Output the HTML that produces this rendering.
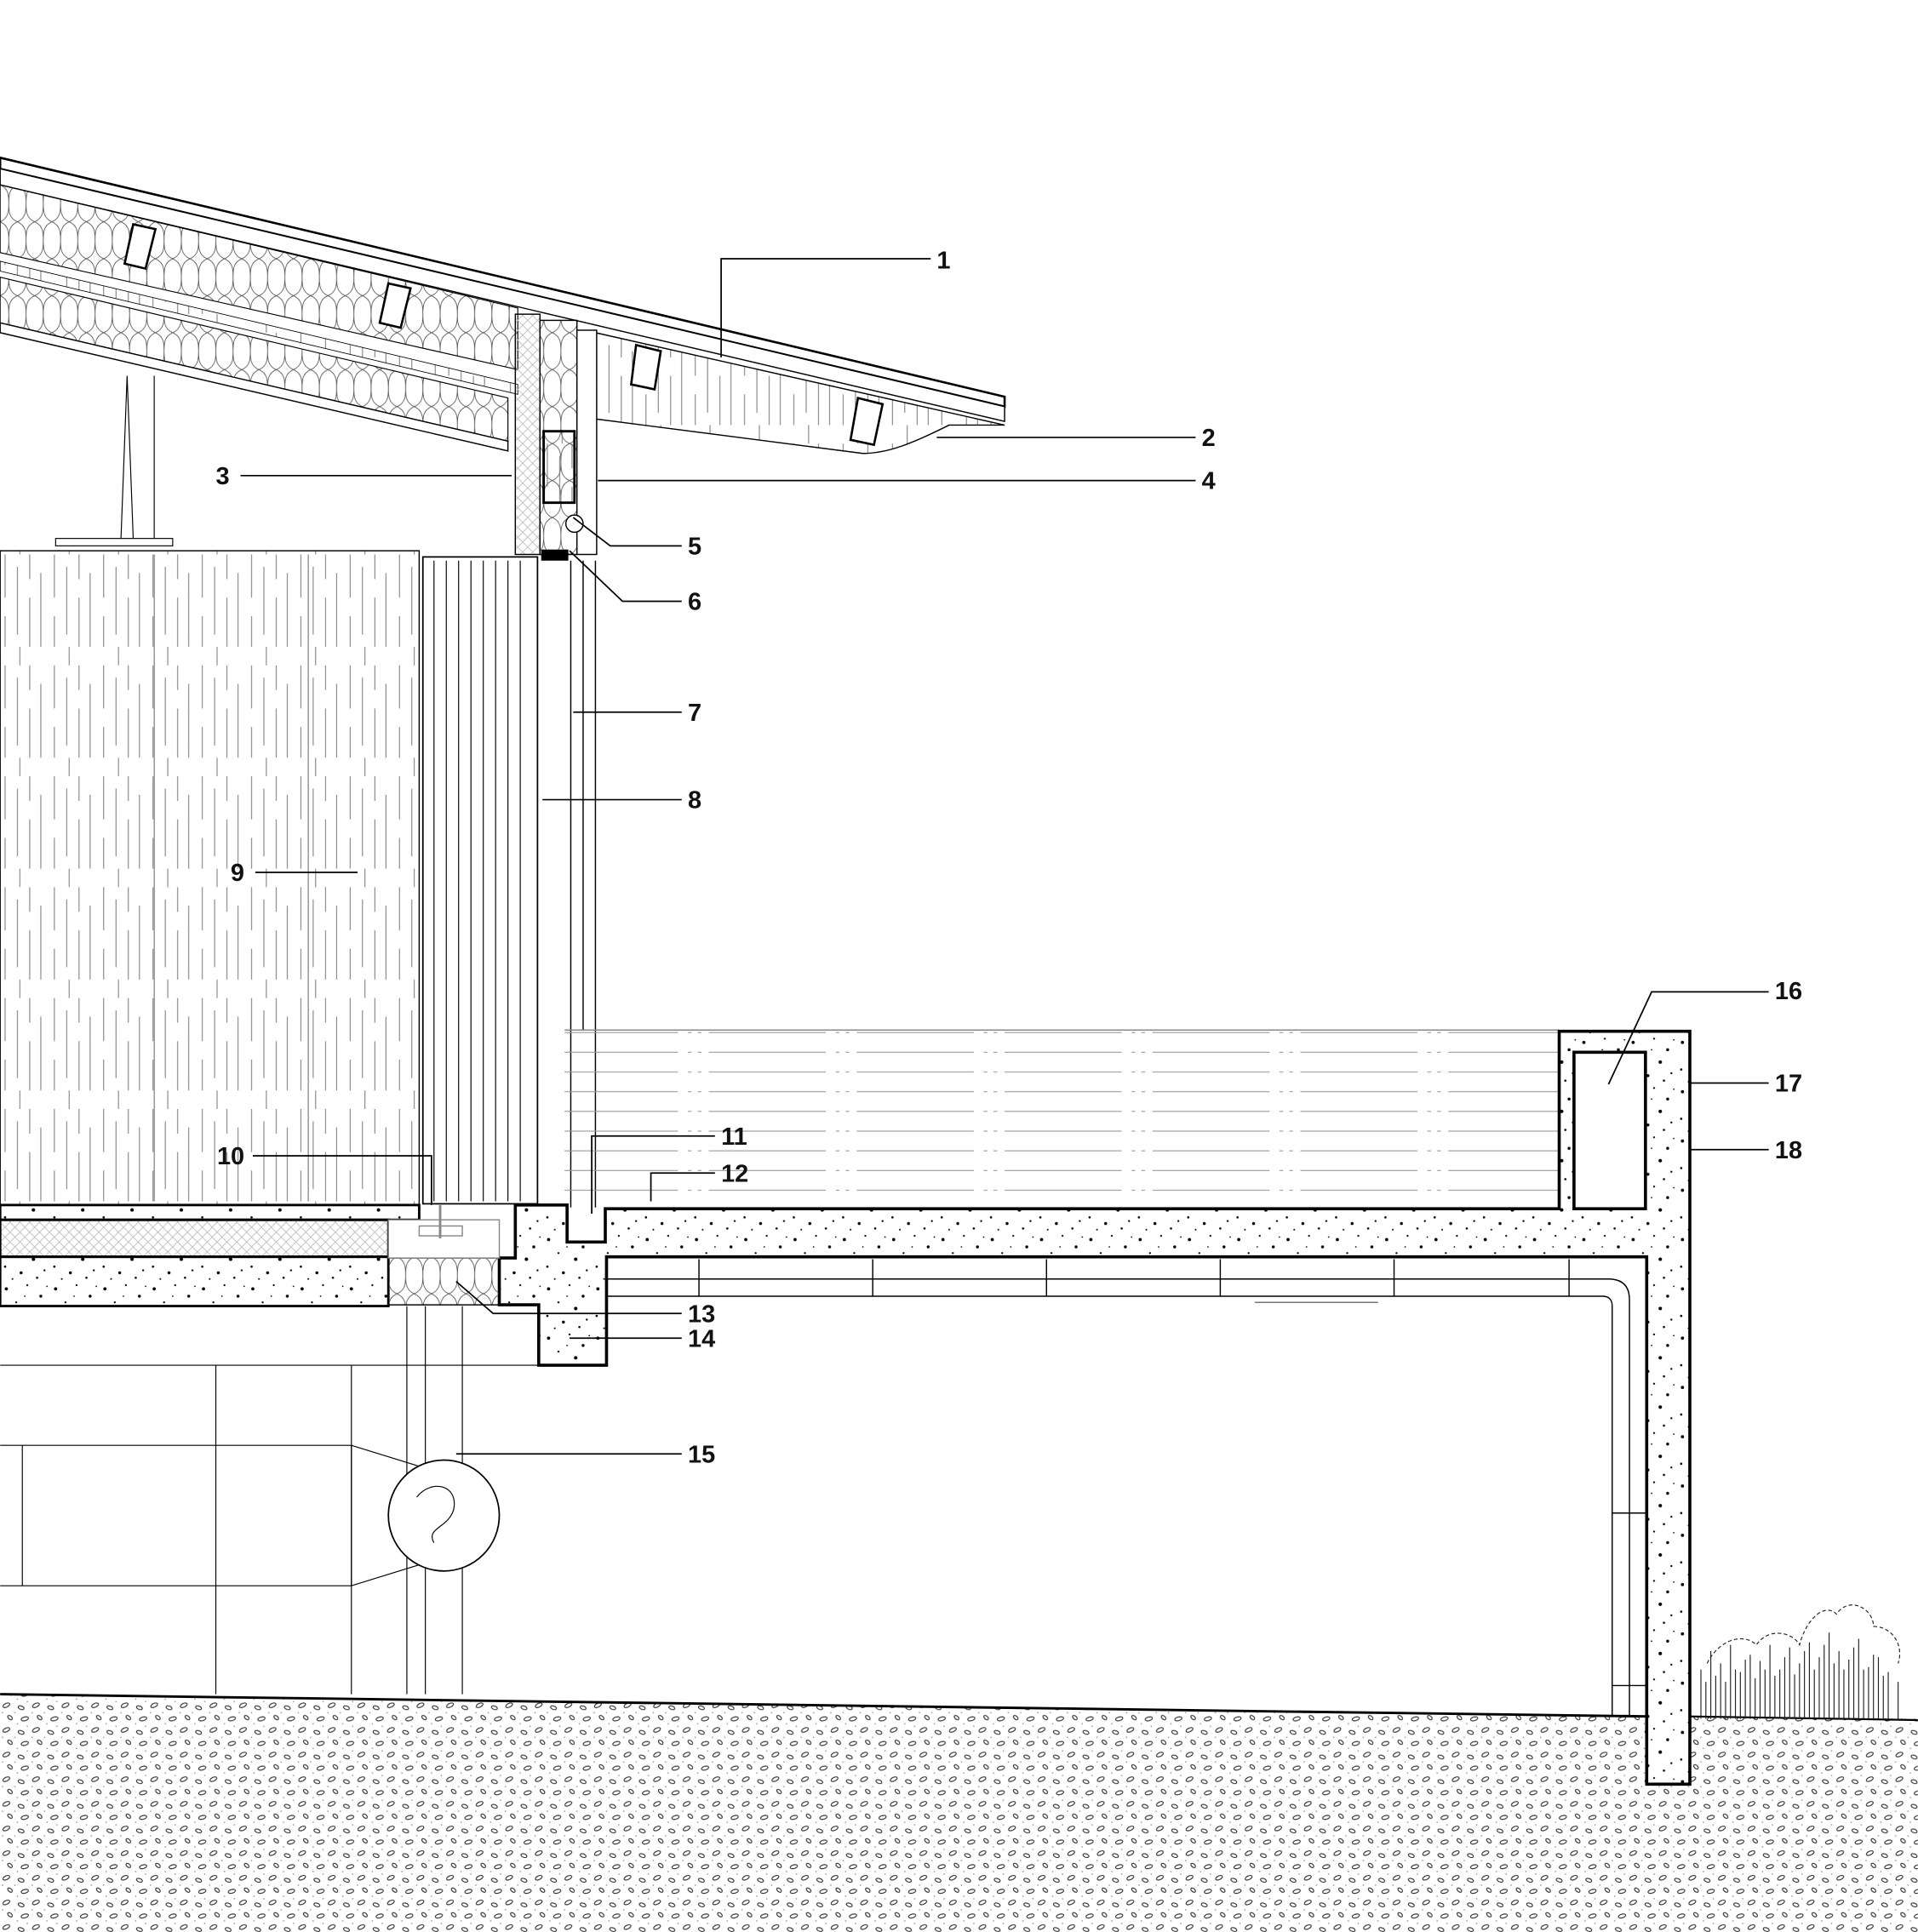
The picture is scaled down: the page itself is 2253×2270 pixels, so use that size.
<!DOCTYPE html>
<html><head><meta charset="utf-8"><style>
html,body{margin:0;padding:0;background:#fff}
svg{display:block}
text{font-family:"Liberation Sans",Arial,sans-serif;font-weight:bold;font-size:20px;fill:#111}
</style></head><body>
<svg width="2253" height="2270" viewBox="0 0 1556 1568" xmlns="http://www.w3.org/2000/svg">
<defs>
<pattern id="conc" width="40" height="40" patternUnits="userSpaceOnUse">
<circle cx="5" cy="6" r="1.3" fill="#000"/><circle cx="22" cy="3" r="0.8" fill="#000"/><circle cx="33" cy="12" r="1.2" fill="#000"/>
<circle cx="13" cy="17" r="0.8" fill="#000"/><circle cx="27" cy="22" r="1.4" fill="#000"/><circle cx="4" cy="28" r="0.9" fill="#000"/>
<circle cx="17" cy="33" r="1.2" fill="#000"/><circle cx="36" cy="31" r="0.8" fill="#000"/><circle cx="10" cy="38" r="0.7" fill="#000"/>
<circle cx="30" cy="37" r="0.9" fill="#000"/><circle cx="20" cy="12" r="0.6" fill="#000"/><circle cx="38" cy="4" r="0.6" fill="#000"/>
</pattern>
<pattern id="cross" width="8" height="8" patternUnits="userSpaceOnUse">
<path d="M0 0L8 8M8 0L0 8" stroke="#bbb" stroke-width="0.6"/>
</pattern>
<pattern id="gravel" width="24" height="20" patternUnits="userSpaceOnUse">
<ellipse cx="5" cy="4" rx="3" ry="1.5" transform="rotate(-25 5 4)" fill="none" stroke="#333" stroke-width="0.8"/>
<ellipse cx="17" cy="6" rx="2.5" ry="1.4" transform="rotate(20 17 6)" fill="none" stroke="#333" stroke-width="0.8"/>
<ellipse cx="20" cy="15" rx="3" ry="1.5" transform="rotate(-15 20 15)" fill="none" stroke="#333" stroke-width="0.8"/>
<ellipse cx="8" cy="14" rx="2.2" ry="1.3" transform="rotate(40 8 14)" fill="none" stroke="#333" stroke-width="0.8"/>
<circle cx="12" cy="10" r="0.6" fill="#999"/><circle cx="22" cy="1" r="0.6" fill="#999"/><circle cx="2" cy="10" r="0.6" fill="#999"/><circle cx="14" cy="19" r="0.6" fill="#999"/>
</pattern>
<pattern id="wood" width="40" height="90" patternUnits="userSpaceOnUse">
<path d="M4 0v35M4 50v25M14 10v55M24 0v20M24 35v40M33 15v60M16 75v15" stroke="#777" stroke-width="0.7"/>
</pattern>
<pattern id="insul" width="14" height="30" patternUnits="userSpaceOnUse">
<path d="M0 0C14 6 0 24 14 30M14 0C0 6 14 24 0 30" fill="none" stroke="#555" stroke-width="0.6"/>
</pattern>
<pattern id="water" width="120" height="16" patternUnits="userSpaceOnUse">
<path d="M0 6H70M78 6h3M86 6h3M95 6h25" stroke="#999" stroke-width="0.8"/>
</pattern>
</defs>

<!-- ground -->
<path d="M0 1375 L1336 1393 L1336 1448 L1371 1448 L1371 1393 L1556 1395 L1556 1568 L0 1568Z" fill="url(#gravel)"/>
<path d="M0 1375 L1336 1393" stroke="#000" stroke-width="2"/>
<path d="M1371 1393 L1556 1396" stroke="#000" stroke-width="1.5"/>
<!-- shrubs -->
<g stroke="#222" stroke-width="0.8" fill="none">
<path d="M1380 1395 v-40 M1384 1395 v-30 M1388 1395 v-55 M1392 1395 v-35 M1396 1395 v-45 M1400 1395 v-30 M1404 1395 v-60 M1408 1395 v-40 M1412 1395 v-38 M1416 1395 v-48 M1420 1395 v-52 M1424 1395 v-33 M1428 1395 v-47 M1432 1395 v-40 M1436 1395 v-60 M1440 1395 v-35 M1444 1395 v-40 M1448 1395 v-50 M1452 1395 v-58 M1456 1395 v-36 M1460 1395 v-45 M1464 1395 v-55 M1468 1395 v-62 M1472 1395 v-40 M1476 1395 v-50 M1480 1395 v-60 M1484 1395 v-70 M1488 1395 v-45 M1492 1395 v-55 M1496 1395 v-40 M1500 1395 v-48 M1504 1395 v-58 M1508 1395 v-65 M1512 1395 v-40 M1516 1395 v-42 M1520 1395 v-52 M1524 1395 v-50 M1528 1395 v-35 M1532 1395 v-38 M1540 1395 v-30"/>
<path d="M1385 1350c10-20 30-25 40-15c10-15 30-10 35 0c5-20 20-35 30-25c10-15 30-5 30 10c15 0 25 15 20 30" stroke-dasharray="3 2"/>
</g>

<!-- roof -->
<g>
<polygon points="0,128 815,322 815,330 0,137" fill="#fff" stroke="#000" stroke-width="1.8"/>
<polygon points="0,137 815,330 815,342 0,150" fill="#fff" stroke="#000" stroke-width="1"/>
<polygon points="0,150 420,250 420,300 0,205" fill="url(#insul)" stroke="#000" stroke-width="0.8"/>
<polygon points="0,212 420,312 420,320 0,220" fill="url(#wood)" stroke="#000" stroke-width="0.6"/>
<polygon points="0,225 412,323 412,358 0,262" fill="url(#insul)" stroke="#000" stroke-width="0.8"/>
<polygon points="0,262 412,358 412,366 0,270" fill="#fff" stroke="#000" stroke-width="1"/>
<polygon points="108,182 126,186 118,218 101,214" fill="#fff" stroke="#000" stroke-width="1.8"/>
<polygon points="315,230 333,234 325,266 308,262" fill="#fff" stroke="#000" stroke-width="1.8"/>
<!-- overhang -->
<path d="M483 270 L815 345 L770 345 C740 360 720 368 700 368 L483 340Z" fill="url(#wood)" stroke="#000" stroke-width="1"/>
<polygon points="516,280 536,285 531,316 512,312" fill="#fff" stroke="#000" stroke-width="1.8"/>
<polygon points="696,323 716,328 709,361 690,357" fill="#fff" stroke="#000" stroke-width="1.8"/>
</g>
<!-- wall column under roof -->
<rect x="418" y="255" width="20" height="195" fill="url(#cross)" stroke="#000" stroke-width="1"/>
<rect x="438" y="260" width="30" height="190" fill="url(#insul)" stroke="#000" stroke-width="1"/>
<rect x="441" y="350" width="25" height="58" fill="url(#wood)" stroke="#000" stroke-width="2"/>
<rect x="468" y="268" width="16" height="182" fill="#fff" stroke="#000" stroke-width="1"/>
<circle cx="466" cy="425" r="7" fill="#fff" stroke="#000"/>
<rect x="439" y="446" width="22" height="9" fill="#000"/>
<!-- post left -->
<path d="M103 305 L98 438 M103 305 L108 438 M125 305 V438" stroke="#000" stroke-width="0.8"/>
<rect x="45" y="437" width="95" height="6" fill="#fff" stroke="#000" stroke-width="0.8"/>

<!-- wood block wall -->
<rect x="0" y="447" width="340" height="531" fill="url(#wood)" stroke="#000" stroke-width="1"/>
<path d="M125 450V975M250 450V975" stroke="#666" stroke-width="0.7"/>
<rect x="343" y="452" width="93" height="525" fill="#fff" stroke="#000" stroke-width="1.2"/>
<g stroke="#000" stroke-width="0.8"><path d="M352 455V975M362 455V975M372 455V975M382 455V975M392 455V975M402 455V975M412 455V975M422 455V975"/></g>
<!-- glass -->
<path d="M463 455 V980 M483 455 V980 M473 455V836" stroke="#000" stroke-width="1"/>

<!-- pool -->
<rect x="458" y="836" width="807" height="145" fill="url(#water)"/>
<path d="M458 836 H1265" stroke="#888" stroke-width="1"/>

<!-- concrete -->
<path d="M418 978 L460 978 L460 1008 L491 1008 L491 981 L1265 981 L1265 837 L1371 837 L1371 1448 L1336 1448 L1336 1020 L492 1020 L492 1108 L437 1108 L437 1059 L405 1059 L405 1021 L418 1021 Z" fill="url(#conc)" stroke="#000" stroke-width="2.5"/>
<rect x="1277" y="854" width="58" height="127" fill="#fff" stroke="#000" stroke-width="2.5"/>
<!-- left floor -->
<rect x="0" y="978" width="340" height="12" fill="url(#conc)" stroke="#000" stroke-width="2"/>
<rect x="0" y="990" width="315" height="30" fill="url(#cross)" stroke="#000" stroke-width="2"/>
<rect x="0" y="1020" width="315" height="40" fill="url(#conc)" stroke="#000" stroke-width="2"/>
<rect x="315" y="1021" width="90" height="38" fill="url(#insul)" stroke="#000" stroke-width="1"/>
<rect x="315" y="990" width="90" height="31" fill="#fff" stroke="#888" stroke-width="1"/>
<rect x="340" y="995" width="35" height="8" fill="#fff" stroke="#888"/>
<path d="M357 978V1005" stroke="#888" stroke-width="2"/>

<!-- pipes -->
<g stroke="#000" stroke-width="1" fill="none">
<path d="M492 1038 H1305 Q1322 1038 1322 1055 V1393"/>
<path d="M492 1052 H1300 Q1308 1052 1308 1060 V1393"/>
<path d="M567 1022V1052M708 1022V1052M849 1022V1052M990 1022V1052M1131 1022V1052M1273 1022V1052"/>
<path d="M1308 1228H1336M1308 1368H1336"/>
<path d="M1018 1057H1118" stroke="#777"/>
</g>
<!-- under structure -->
<g stroke="#000" stroke-width="0.8" fill="none">
<path d="M0 1108 H437 M330 1060V1375M345 1060V1375M375 1060V1375M175 1108V1375M285 1108V1375"/>
<path d="M0 1173 H285 L340 1190 M0 1287 H285 L340 1270"/>
<path d="M18 1173V1287M285 1173V1287"/>
</g>
<circle cx="360" cy="1230" r="45" fill="#fff" stroke="#000" stroke-width="1.2"/>
<path d="M338 1215 C350 1200 372 1205 368 1225 C364 1240 345 1240 352 1252" fill="none" stroke="#000" stroke-width="0.8"/>

<!-- leaders -->
<g stroke="#000" stroke-width="1.2" fill="none">
<path d="M585 290V210H755"/>
<path d="M760 355H970"/>
<path d="M195 386H415"/>
<path d="M485 390H970"/>
<path d="M465 420L495 443H553"/>
<path d="M462 447L505 488H553"/>
<path d="M465 578H553"/>
<path d="M440 649H553"/>
<path d="M207 708H290"/>
<path d="M205 938H350V978"/>
<path d="M480 985V922H580"/>
<path d="M528 975V952H580"/>
<path d="M370 1040L400 1066H553"/>
<path d="M462 1086H553"/>
<path d="M370 1180H553"/>
<path d="M1305 880L1340 805H1435"/>
<path d="M1370 879H1435"/>
<path d="M1370 933H1435"/>
</g>
<text x="760" y="218">1</text>
<text x="975" y="362">2</text>
<text x="175" y="393">3</text>
<text x="975" y="397">4</text>
<text x="558" y="450">5</text>
<text x="558" y="495">6</text>
<text x="558" y="585">7</text>
<text x="558" y="656">8</text>
<text x="187" y="715">9</text>
<text x="176" y="945">10</text>
<text x="585" y="929">11</text>
<text x="585" y="959">12</text>
<text x="558" y="1073">13</text>
<text x="558" y="1093">14</text>
<text x="558" y="1187">15</text>
<text x="1440" y="811">16</text>
<text x="1440" y="886">17</text>
<text x="1440" y="940">18</text>
</svg>
</body></html>
